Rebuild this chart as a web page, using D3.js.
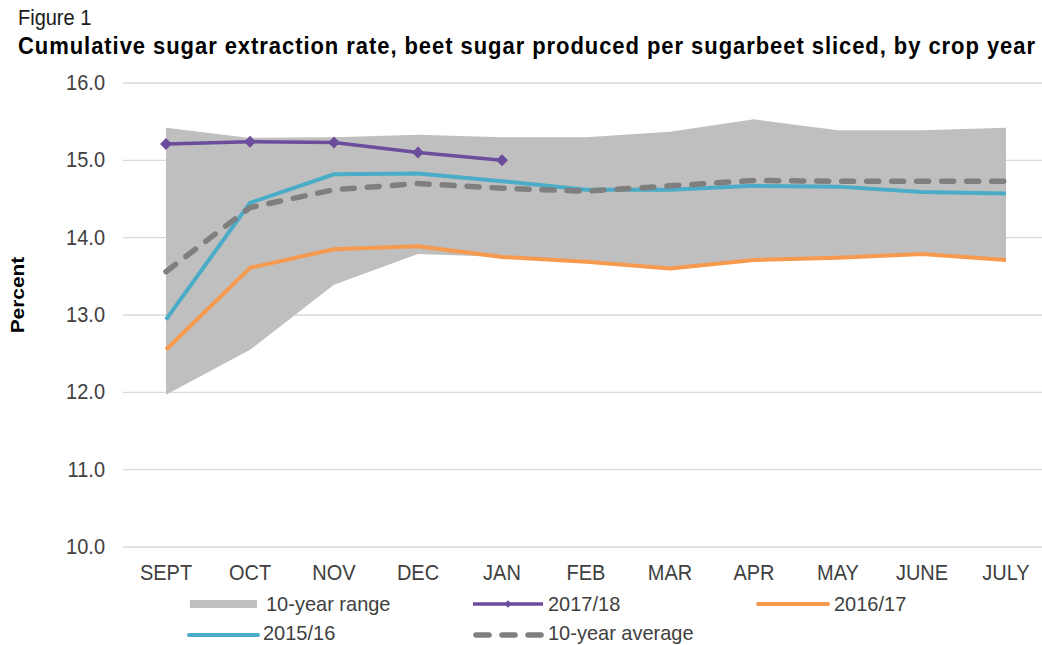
<!DOCTYPE html>
<html>
<head>
<meta charset="utf-8">
<script src="https://cdn.jsdelivr.net/npm/d3@7"></script>
<style>
  html, body { margin: 0; padding: 0; background: #fff; }
  svg { display: block; font-family: "Liberation Sans", Arial, sans-serif; }
</style>
</head>
<body>
<svg id="chart" width="1042" height="645"></svg>
<script>
// Crop-year months (Sept–July)
const months = ["SEPT", "OCT", "NOV", "DEC", "JAN", "FEB", "MAR", "APR", "MAY", "JUNE", "JULY"];

// 10-year range (low / high), percent
const rangeLow  = [11.97, 12.55, 13.39, 13.79, 13.75, 13.69, 13.60, 13.71, 13.74, 13.79, 13.71];
const rangeHigh = [15.42, 15.29, 15.30, 15.33, 15.30, 15.30, 15.37, 15.53, 15.39, 15.39, 15.42];

// Individual crop years and 10-year average
const crop2017 = [15.21, 15.24, 15.23, 15.10, 15.00];
const crop2016 = [12.55, 13.61, 13.85, 13.89, 13.75, 13.69, 13.60, 13.71, 13.74, 13.79, 13.71];
const crop2015 = [12.94, 14.45, 14.82, 14.83, 14.73, 14.62, 14.62, 14.67, 14.66, 14.59, 14.57];
const avg10    = [13.56, 14.39, 14.62, 14.70, 14.64, 14.60, 14.67, 14.74, 14.73, 14.73, 14.73];

// Y-axis ticks
const yTicks = [10, 11, 12, 13, 14, 15, 16];

const svg = d3.select("#chart");
const STRETCH = 1.1;   // slightly tall glyphs

const x = d3.scaleBand().domain(months).range([124, 1048]).padding(0);
const cx = m => x(m) + x.bandwidth() / 2;
const y = d3.scaleLinear().domain([10, 16]).range([547, 83]);

function label(g, px, py, str, opts = {}) {
  const t = g.append("text")
    .attr("transform", `translate(${px},${py}) scale(1,${opts.stretch ?? STRETCH})`)
    .attr("text-anchor", opts.anchor || "start")
    .attr("font-size", opts.size || 20)
    .attr("font-weight", opts.weight || "normal")
    .attr("fill", opts.fill || "#404040")
    .text(str);
  if (opts.length) t.attr("textLength", opts.length).attr("lengthAdjust", "spacing");
  return t;
}

// Titles
label(svg, 18, 25, "Figure 1", { size: 20, fill: "#1a1a1a", stretch: 1.08 });
label(svg, 18, 54, "Cumulative sugar extraction rate, beet sugar produced per sugarbeet sliced, by crop year",
  { size: 22, weight: "bold", fill: "#000", length: 1017, stretch: 1.05 });

// Gridlines
svg.append("g").selectAll("line").data(yTicks).join("line")
  .attr("x1", 123).attr("x2", 1048)
  .attr("y1", d => y(d)).attr("y2", d => y(d))
  .attr("stroke", "#d9d9d9").attr("stroke-width", 1.3);

// Y tick labels
const yl = svg.append("g");
yTicks.forEach(v => label(yl, 105, y(v) + 7, d3.format(".1f")(v), { anchor: "end" }));

// Y axis title
svg.append("text")
  .attr("transform", "translate(24,295) rotate(-90) scale(1.1,1)")
  .attr("text-anchor", "middle")
  .attr("font-size", 19).attr("font-weight", "bold").attr("fill", "#000")
  .text("Percent");

// X tick labels
const xl = svg.append("g");
months.forEach(m => label(xl, cx(m), 580, m, { anchor: "middle" }));

// 10-year range band
const band = months.map((m, i) => ({ m, lo: rangeLow[i], hi: rangeHigh[i] }));
svg.append("path").datum(band)
  .attr("fill", "#bfbfbf")
  .attr("d", d3.area().x(d => cx(d.m)).y0(d => y(d.lo)).y1(d => y(d.hi)));

const pts = arr => arr.map((v, i) => ({ m: months[i], v }));
const line = d3.line().x(d => cx(d.m)).y(d => y(d.v));

// 2016/17
svg.append("path").datum(pts(crop2016))
  .attr("fill", "none").attr("stroke", "#f59a4f").attr("stroke-width", 4)
  .attr("stroke-linejoin", "round").attr("d", line);

// 2015/16
svg.append("path").datum(pts(crop2015))
  .attr("fill", "none").attr("stroke", "#4aacc6").attr("stroke-width", 4)
  .attr("stroke-linejoin", "round").attr("d", line);

// 10-year average
svg.append("path").datum(pts(avg10))
  .attr("fill", "none").attr("stroke", "#7f7f7f").attr("stroke-width", 5.5)
  .attr("stroke-linecap", "round").attr("stroke-dasharray", "12,13")
  .attr("d", line);

// 2017/18 with diamond markers
svg.append("path").datum(pts(crop2017))
  .attr("fill", "none").attr("stroke", "#6b4d9b").attr("stroke-width", 3.5)
  .attr("stroke-linejoin", "round").attr("d", line);
const diamond = d3.symbol().type(d3.symbolSquare).size(72);
svg.append("g").selectAll("path").data(pts(crop2017)).join("path")
  .attr("transform", d => `translate(${cx(d.m)},${y(d.v)}) rotate(45)`)
  .attr("fill", "#6b4d9b").attr("d", diamond);

// Legend
const lg = svg.append("g");
const legendText = { size: 20, fill: "#404040", stretch: 1.05 };
// row 1
lg.append("rect").attr("x", 190).attr("y", 600).attr("width", 67).attr("height", 8).attr("fill", "#bfbfbf");
label(lg, 266, 611, "10-year range", legendText);
lg.append("line").attr("x1", 473).attr("x2", 543).attr("y1", 604).attr("y2", 604)
  .attr("stroke", "#6b4d9b").attr("stroke-width", 3.5);
lg.append("path").attr("transform", "translate(508,604) rotate(45)")
  .attr("fill", "#6b4d9b").attr("d", d3.symbol().type(d3.symbolSquare).size(30)());
label(lg, 548, 611, "2017/18", legendText);
lg.append("line").attr("x1", 758).attr("x2", 828).attr("y1", 604).attr("y2", 604)
  .attr("stroke", "#f59a4f").attr("stroke-width", 4).attr("stroke-linecap", "round");
label(lg, 834, 611, "2016/17", legendText);
// row 2
lg.append("line").attr("x1", 189).attr("x2", 258).attr("y1", 635).attr("y2", 635)
  .attr("stroke", "#4aacc6").attr("stroke-width", 4).attr("stroke-linecap", "round");
label(lg, 263, 640, "2015/16", legendText);
lg.append("line").attr("x1", 476).attr("x2", 541).attr("y1", 635).attr("y2", 635)
  .attr("stroke", "#7f7f7f").attr("stroke-width", 5.5).attr("stroke-linecap", "round")
  .attr("stroke-dasharray", "13,13");
label(lg, 548, 640, "10-year average", legendText);
</script>
</body>
</html>
